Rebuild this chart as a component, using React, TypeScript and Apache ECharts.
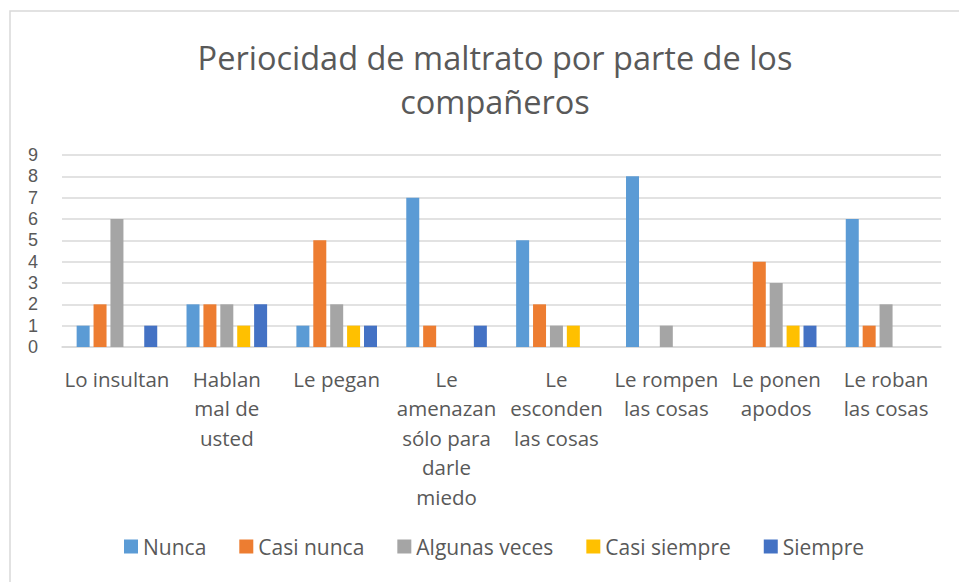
import React, { useEffect, useRef } from "react";
import * as echarts from "echarts";

const categories = [
  "Lo insultan",
  "Hablan\nmal de\nusted",
  "Le pegan",
  "Le\namenazan\nsólo para\ndarle\nmiedo",
  "Le\nesconden\nlas cosas",
  "Le rompen\nlas cosas",
  "Le ponen\napodos",
  "Le roban\nlas cosas",
];

const seriesNames = ["Nunca", "Casi nunca", "Algunas veces", "Casi siempre", "Siempre"];
const nunca = [1, 2, 1, 7, 5, 8, 0, 6];
const casiNunca = [2, 2, 5, 1, 2, 0, 4, 1];
const algunasVeces = [6, 2, 2, 0, 1, 1, 3, 2];
const casiSiempre = [0, 1, 1, 0, 1, 0, 1, 0];
const siempre = [1, 2, 1, 1, 0, 0, 1, 0];
const colors = ["#5B9BD5", "#ED7D31", "#A5A5A5", "#FFC000", "#4472C4"];

const FONT = "'Open Sans', sans-serif";

export default function App() {
  const ref = useRef<HTMLDivElement>(null);
  useEffect(() => {
    document.body.style.margin = "0";
    const chart = echarts.init(ref.current!, null, { renderer: "svg" });
    const values = [nunca, casiNunca, algunasVeces, casiSiempre, siempre];
    chart.setOption({
      animation: false,
      backgroundColor: "#ffffff",
      color: colors,
      textStyle: { fontFamily: FONT },
      graphic: [
        {
          type: "rect",
          shape: { x: 10, y: 11, width: 960, height: 580 },
          style: { fill: "none", stroke: "#d9d9d9", lineWidth: 1.5 },
          silent: true,
        },
      ],
      title: {
        text: "Periocidad de maltrato por parte de los\ncompañeros",
        left: 490,
        textAlign: "center",
        top: 30,
        textStyle: {
          fontFamily: FONT,
          fontSize: 32.5,
          fontWeight: "normal",
          color: "#595959",
          lineHeight: 44,
        },
      },
      legend: {
        data: seriesNames,
        bottom: 20,
        left: 119,
        itemWidth: 14,
        itemHeight: 14,
        itemGap: 33,
        icon: "rect",
        textStyle: { fontFamily: FONT, fontSize: 21, color: "#595959" },
      },
      grid: { left: 62, right: 18, top: 155, bottom: 235 },
      xAxis: {
        type: "category",
        data: categories,
        axisLine: { lineStyle: { color: "#d9d9d9", width: 1.5 } },
        axisTick: { show: false },
        axisLabel: {
          interval: 0,
          fontFamily: FONT,
          fontSize: 20.5,
          color: "#595959",
          lineHeight: 29.5,
          margin: 17,
        },
      },
      yAxis: {
        type: "value",
        min: 0,
        max: 9,
        interval: 1,
        axisLine: { show: false },
        axisTick: { show: false },
        splitLine: { lineStyle: { color: "#d9d9d9", width: 1.5 } },
        axisLabel: {
          fontFamily: "'Liberation Sans', sans-serif",
          fontSize: 18,
          lineHeight: 18,
          color: "#595959",
          margin: 24,
        },
      },
      series: seriesNames.map((name, i) => ({
        name,
        type: "bar",
        data: values[i],
        barWidth: 13,
        barGap: "30%",
        itemStyle: { color: colors[i] },
      })),
    });
    return () => chart.dispose();
  }, []);
  return <div ref={ref} style={{ width: 959, height: 582 }} />;
}
